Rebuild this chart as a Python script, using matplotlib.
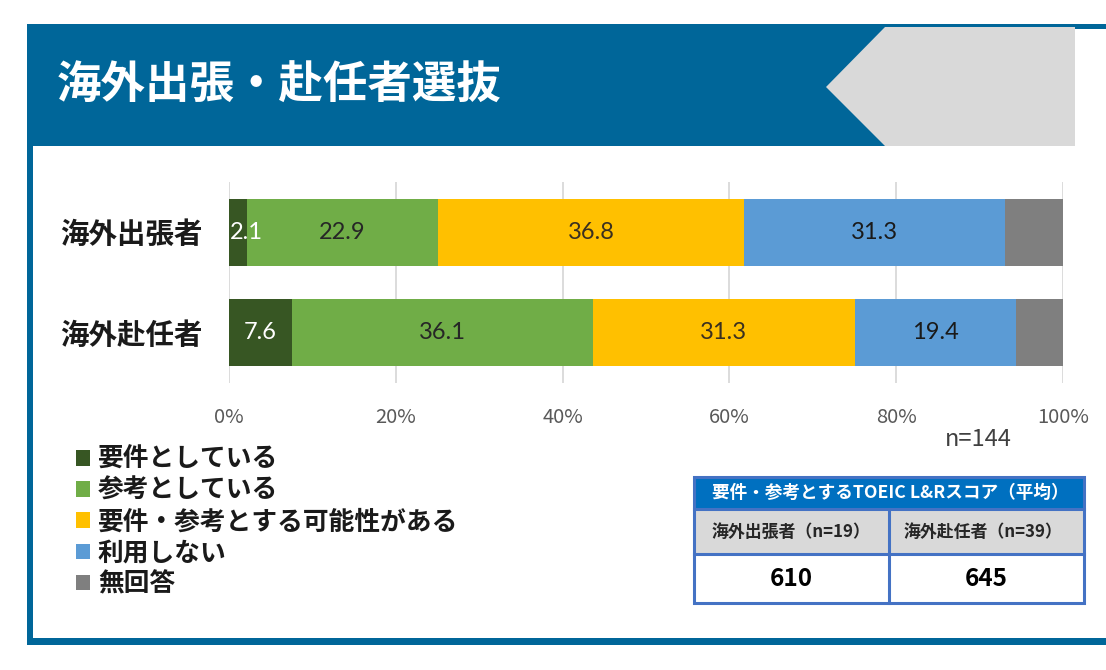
import numpy as np
import matplotlib
matplotlib.use('Agg')
import matplotlib.pyplot as plt
from matplotlib.patches import Rectangle, Polygon

plt.rcParams['font.family'] = ['Noto Sans CJK JP', 'DejaVu Sans']

title = '海外出張・赴任者選抜'
groups = ['海外出張者', '海外赴任者']
series_names = ['要件としている', '参考としている', '要件・参考とする可能性がある', '利用しない', '無回答']
requirement = [2.1, 7.6]
reference = [22.9, 36.1]
possible = [36.8, 31.3]
not_used = [31.3, 19.4]
no_answer = [6.9, 5.6]
show_label = [True, True, True, True, False]
sample_note = 'n=144'
ticks = [0, 20, 40, 60, 80, 100]

table_title = '要件・参考とするTOEIC L&Rスコア（平均）'
table_groups = ['海外出張者（n=19）', '海外赴任者（n=39）']
table_scores = [610, 645]

colors = ['#375623', '#70AD47', '#FFC000', '#5B9BD5', '#7F7F7F']
label_colors = ['white', '#262626', '#3a3020', '#1a1a1a', '#262626']
band_blue = '#006699'

fig = plt.figure(figsize=(11.06, 6.70), dpi=100)

# background frame drawn in pixel units
bg = fig.add_axes([0, 0, 1, 1], zorder=0)
bg.set_xlim(0, 1106)
bg.set_ylim(670, 0)
bg.axis('off')
bg.add_patch(Rectangle((27, 24), 1048, 122, color=band_blue, lw=0))
bg.add_patch(Rectangle((1075, 24), 31, 5, color=band_blue, lw=0))
bg.add_patch(Polygon([(885, 27), (1075, 27), (1075, 146), (885, 146), (826, 87)],
                     closed=True, color='#D9D9D9', lw=0))
bg.add_patch(Rectangle((27, 146), 6, 496, color=band_blue, lw=0))
bg.add_patch(Rectangle((27, 638), 1079, 7, color=band_blue, lw=0))
bg.text(57, 86, title, color='white', fontsize=32, fontweight='bold', va='center', ha='left')

# score table
bg.add_patch(Rectangle((694, 477), 390, 32, facecolor='#0070C0', lw=0))
bg.add_patch(Rectangle((694, 509), 390, 45, facecolor='#D9D9D9', lw=0))
bg.add_patch(Rectangle((694, 554), 390, 49, facecolor='white', lw=0))
border = '#4472C4'
bg.add_patch(Rectangle((694, 477), 390, 126, fill=False, edgecolor=border, lw=2.2))
bg.plot([694, 1084], [509, 509], color=border, lw=2.2)
bg.plot([694, 1084], [554, 554], color=border, lw=2.2)
bg.plot([889, 889], [509, 603], color=border, lw=2.2)
bg.text(712, 493, table_title, color='white', fontsize=12.7, fontweight='bold', va='center')
cell_left = [712, 904]
cell_mid = [791, 986]
for i in range(2):
    bg.text(cell_left[i], 532, table_groups[i], color='#262626', fontsize=12.2,
            fontweight='bold', va='center')
    bg.text(cell_mid[i], 579, str(table_scores[i]), color='black', fontsize=17.5,
            fontweight='bold', va='center', ha='center')

bg.text(945, 440, sample_note, color='#404040', fontsize=17, va='center', ha='left')

# chart
ax = fig.add_axes([229 / 1106, 1 - 383 / 670, 834 / 1106, 201 / 670], zorder=1)
ax.patch.set_alpha(0)
series = [requirement, reference, possible, not_used, no_answer]
y = np.arange(len(groups))
left = np.zeros(len(groups))
handles = []
for k, vals in enumerate(series):
    vals = np.array(vals)
    h = ax.barh(y, vals, left=left, height=0.67, color=colors[k], label=series_names[k], zorder=2)
    handles.append(h)
    if show_label[k]:
        for j in range(len(groups)):
            cx = left[j] + vals[j] / 2
            if vals[j] < 3:
                ax.text(left[j] + 0.15, y[j], f'{vals[j]:.1f}', ha='left', va='center',
                        color=label_colors[k], fontsize=17, family='Lato', zorder=3)
            else:
                ax.text(cx, y[j], f'{vals[j]:.1f}', ha='center', va='center',
                        color=label_colors[k], fontsize=17, family='Lato', zorder=3)
    left = left + vals

ax.set_xlim(0, 100)
ax.set_ylim(1.5, -0.5)
ax.set_xticks(ticks)
ax.set_xticklabels([f'{t}%' for t in ticks], fontsize=14.5, color='#595959')
ax.set_yticks(y)
ax.set_yticklabels(groups, fontsize=20.5, fontweight='bold', color='#1a1a1a')
ax.tick_params(axis='x', length=0, pad=17)
ax.tick_params(axis='y', length=0, pad=19)
ax.grid(axis='x', color='#D9D9D9', lw=1.3, zorder=1)
ax.set_axisbelow(True)
for s in ax.spines.values():
    s.set_visible(False)

leg = ax.legend(handles=handles, loc='upper left', bbox_to_anchor=(76 / 1106, 1 - 446 / 670),
                bbox_transform=fig.transFigure, frameon=False, borderpad=0, borderaxespad=0,
                handlelength=0.55, handleheight=0.55, handletextpad=0.3, labelspacing=0.16,
                prop={'size': 18.5, 'weight': 'bold'})
for t in leg.get_texts():
    t.set_color('#1a1a1a')

fig.savefig('out.png', dpi=100)
